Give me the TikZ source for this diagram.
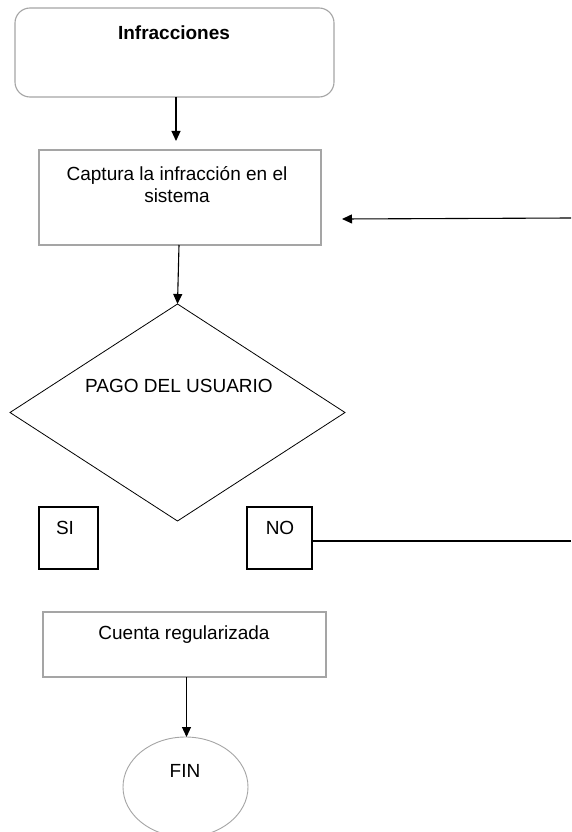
\documentclass[tikz,border=0pt]{standalone}
\usepackage{fontspec}
\setmainfont{Liberation Sans}
\usetikzlibrary{shapes.geometric,arrows.meta}
\definecolor{boxgray}{RGB}{165,165,165}
\begin{document}
\begin{tikzpicture}[x=1pt,y=-1pt,
  shp/.style={inner sep=0pt,outer sep=0pt},
  graybox/.style={shp,rectangle,draw=boxgray,line width=1.1pt},
  blackbox/.style={shp,rectangle,draw=black,line width=1.1pt},
  txt/.style={anchor=base,inner sep=0pt,align=center,font=\fontsize{19}{22.5}\selectfont},
  arr/.style={line width=1.1pt,-{Triangle[length=10pt,width=9pt]}},
  plain/.style={line width=1.1pt}]
\useasboundingbox (0,0) rectangle (571,832);
\fill[white] (0,0) rectangle (571,832);
\clip (0,0) rectangle (571,832);

% shapes
\node[graybox,rounded corners=15pt,minimum width=319pt,minimum height=89pt] (inf) at (174.5,52.5) {};
\node[graybox,minimum width=282pt,minimum height=95pt] (cap) at (180,197.5) {};
\node[shp,diamond,draw=black,line width=0.8pt,minimum width=335pt,minimum height=217pt] (dia) at (177.5,412.5) {};
\node[blackbox,minimum width=59pt,minimum height=62pt] (si) at (68.5,538) {};
\node[blackbox,minimum width=65pt,minimum height=62pt] (no) at (279.5,538) {};
\node[graybox,minimum width=283pt,minimum height=65pt] (cue) at (184.5,644.5) {};
\node[shp,ellipse,draw=boxgray,line width=0.9pt,minimum width=125pt,minimum height=100pt] (fin) at (185.5,787) {};

% texts
\node[txt,font=\fontsize{19}{22.5}\selectfont\bfseries] (infT) at (174,39.5) {Infracciones};
\node[txt] (capT) at (177,202.5) {Captura la infracción en el\\sistema};
\node[txt] (diaT) at (179,392.7) {PAGO DEL USUARIO};
\node[txt] (siT) at (65,534) {SI};
\node[txt] (noT) at (280,534) {NO};
\node[txt] (cueT) at (184,639) {Cuenta regularizada};
\node[txt] (finT) at (185,777) {FIN};

% free ends
\coordinate (rin) at (571,218);
\coordinate (rtip) at (342,219);
\coordinate (nout) at (571,541);

% connectors
\draw[arr] ([xshift=1.5pt]inf.south) -- ([xshift=-4pt,yshift=9pt]cap.north);
\draw[arr] ([xshift=-1pt]cap.south) -- (dia.north);
\draw[arr] (rin) -- (rtip);
\draw[plain] ([yshift=-3pt]no.east) -- (nout);
\draw[arr] ([xshift=2pt]cue.south) -- ([xshift=1pt]fin.north);
\end{tikzpicture}
\end{document}
